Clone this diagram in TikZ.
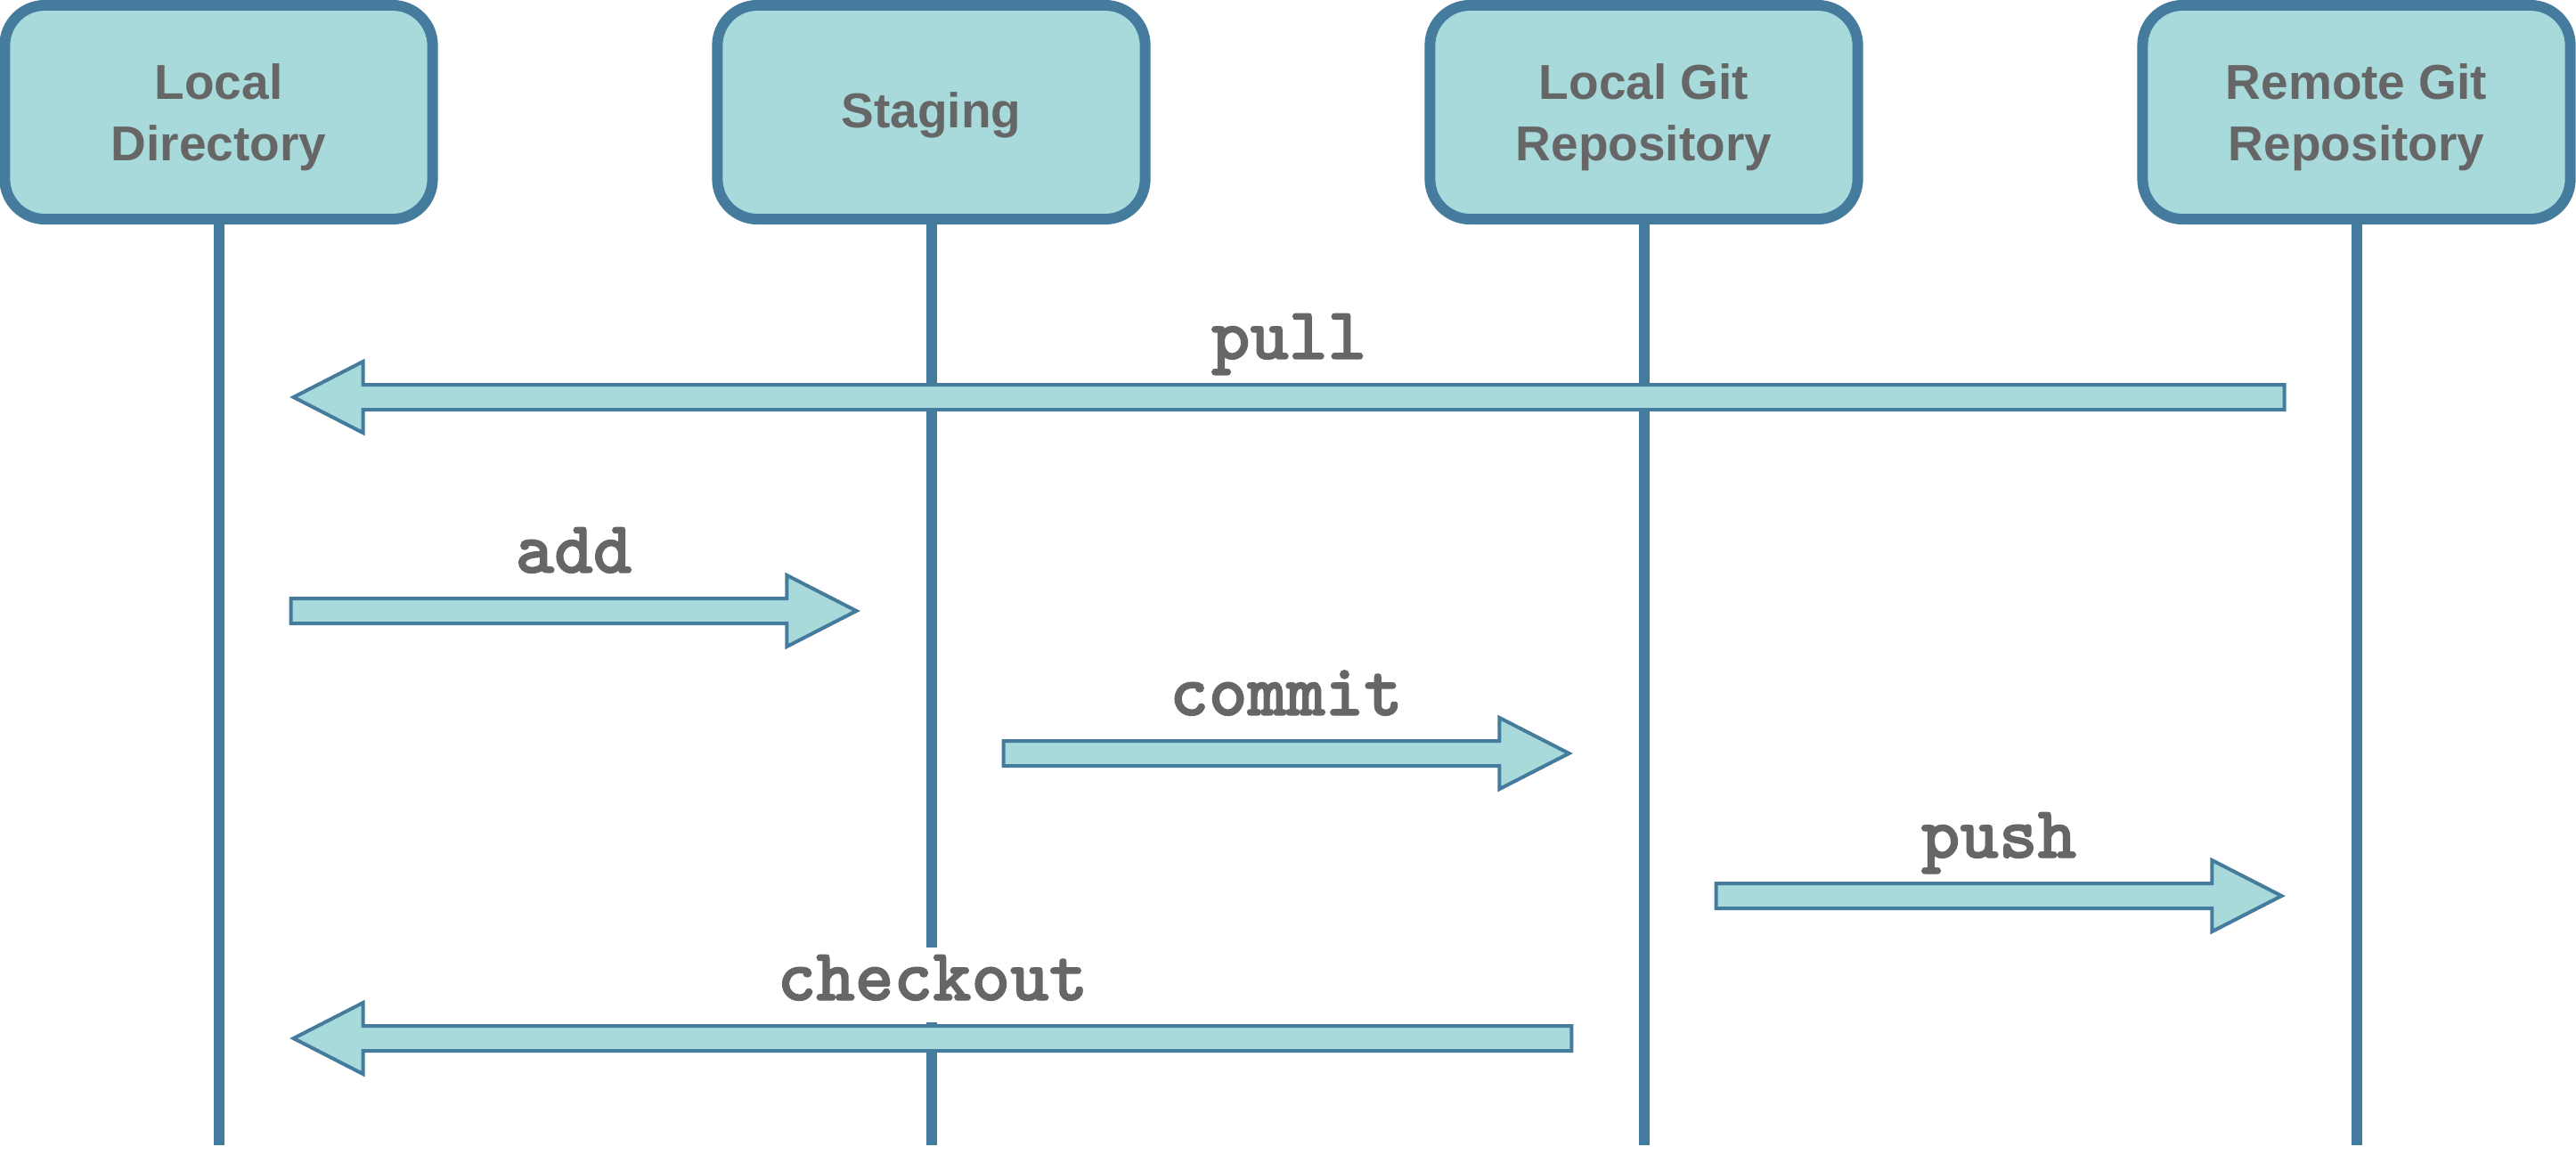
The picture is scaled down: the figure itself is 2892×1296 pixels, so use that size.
\documentclass[tikz,border=0pt]{standalone}
\usepackage{fontspec}
\usetikzlibrary{calc, positioning}
\newfontfamily\boxfont{Liberation Sans}
\newfontfamily\cmdfont{lmmonolt10-bold.otf}[FakeBold=1.6]
\definecolor{boxfill}{HTML}{A8DADC}
\definecolor{boxline}{HTML}{457B9D}
\definecolor{labelgray}{HTML}{666666}
\newcommand{\shaftw}{0.14cm}
\newcommand{\headw}{0.40cm}
\newcommand{\headl}{0.78cm}
% fat arrow from #1 to #2, with its label #3 above
\newcommand{\fatarrow}[3]{%
	\path (#1) -- (#2) node[cmdlabel, midway, anchor=base, yshift=0.43cm] (lbl-#3) {#3};
	\draw[flow] let \p1=(#1), \p2=(#2), \p3=($(#2)!\headl!(#1)$) in
		(\x1,\y1+\shaftw) -- (\x3,\y1+\shaftw) -- (\x3,\y1+\headw) -- (\x2,\y2)
		-- (\x3,\y1-\headw) -- (\x3,\y1-\shaftw) -- (\x1,\y1-\shaftw) -- cycle;
}

\begin{document}
\begin{tikzpicture}[x=0.01cm, y=-0.01cm]
	\tikzset{actor/.style={draw=boxline, fill=boxfill, line width=0.12cm, rounded corners=0.45cm,
			minimum width=4.8cm, minimum height=2.4cm, inner sep=0pt, align=center, text=labelgray,
			font=\boxfont\bfseries\fontsize{15.65pt}{19.35pt}\selectfont, text depth=0.06cm},
		oneline/.style={text height=0.40cm},
		twoline/.style={text height=1.14cm},
		lifeline/.style={draw=boxline, line width=0.12cm},
		flow/.style={draw=boxline, fill=boxfill, line width=0.04cm, line join=miter},
		cmdlabel/.style={fill=white, text=labelgray, font=\cmdfont\fontsize{23.6pt}{23.6pt}\selectfont,
			text height=0.45cm, text depth=0.11cm, inner ysep=0.14cm, inner xsep=0.05cm}}
	
	\useasboundingbox (0,0) rectangle (2892,1296);
	
	\node[actor, twoline] (locdir) at (245.5,126) {Local\\Directory};
	\node[actor, oneline] (staging) at (1045.5,126) {Staging};
	\node[actor, twoline] (localrepo) at (1845.5,126) {Local Git\\Repository};
	\node[actor, twoline] (remoterepo) at (2645.5,126) {Remote Git\\Repository};
	
	\foreach \n in {locdir,staging,localrepo,remoterepo}
	{
		\draw[lifeline] (\n.south) -- (\n.south |- 0,1286); %lifelines
	}
	
	% messages: from / to / height / command
	\foreach \src/\dst/\y/\gitcmd in {remoterepo/locdir/446/pull, locdir/staging/686/add,
		staging/localrepo/846/commit, localrepo/remoterepo/1006/push, localrepo/locdir/1166/checkout}
	{
		\coordinate (\gitcmd-a) at ($(\src.south |- 0,\y)!0.81cm!(\dst.south |- 0,\y)$);
		\coordinate (\gitcmd-b) at ($(\dst.south |- 0,\y)!0.84cm!(\src.south |- 0,\y)$);
		\fatarrow{\gitcmd-a}{\gitcmd-b}{\gitcmd}
	}
	
\end{tikzpicture}
\end{document}
